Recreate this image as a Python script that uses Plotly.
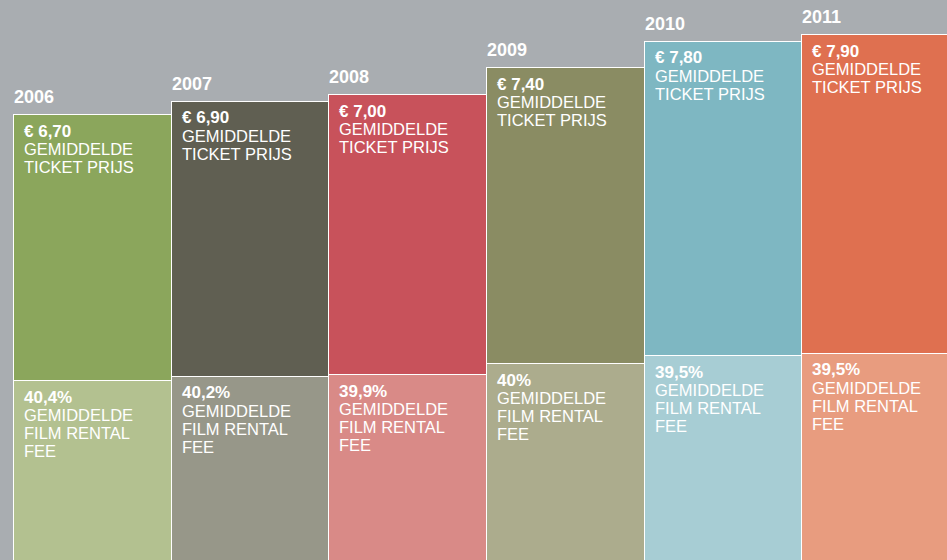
import plotly.graph_objects as go

years = ["2006", "2007", "2008", "2009", "2010", "2011"]
ticket_price = [6.70, 6.90, 7.00, 7.40, 7.80, 7.90]
rental_pct = [40.4, 40.2, 39.9, 40.0, 39.5, 39.5]
price_labels = ["€ 6,70", "€ 6,90", "€ 7,00", "€ 7,40", "€ 7,80", "€ 7,90"]
pct_labels = ["40,4%", "40,2%", "39,9%", "40%", "39,5%", "39,5%"]
upper_colors = ["#8ba65c", "#605f52", "#c8525b", "#8a8c63", "#7eb7c2", "#df7050"]
lower_colors = ["#b3c190", "#979789", "#d98a87", "#acac8d", "#a7cdd4", "#e89c7f"]

BG = "#a9adb1"
FONT = "Liberation Sans"

x = list(range(len(years)))
lower_vals = [p * r / 100 for p, r in zip(ticket_price, rental_pct)]
upper_vals = [p - l for p, l in zip(ticket_price, lower_vals)]

fig = go.Figure()
fig.add_trace(go.Bar(x=x, y=lower_vals, width=1,
                     marker=dict(color=lower_colors, line=dict(color="white", width=1.5)),
                     hoverinfo="skip"))
fig.add_trace(go.Bar(x=x, y=upper_vals, width=1,
                     marker=dict(color=upper_colors, line=dict(color="white", width=1.5)),
                     hoverinfo="skip"))

ann = []
def line(xi, yv, text, shift, bold=False, size=16.5):
    ann.append(dict(x=xi - 0.5, y=yv, xref="x", yref="y", xanchor="left", yanchor="middle",
                    xshift=8, yshift=shift, showarrow=False,
                    text=("<b>%s</b>" % text) if bold else text,
                    font=dict(family=FONT, size=size, color="white")))

for i in x:
    # year label
    ann.append(dict(x=i - 0.5, y=ticket_price[i], xref="x", yref="y", xanchor="left",
                    yanchor="middle", xshift=-2, yshift=18, showarrow=False,
                    text="<b>%s</b>" % years[i],
                    font=dict(family=FONT, size=18, color="white")))
    line(i, ticket_price[i], price_labels[i], -16, bold=True, size=17)
    line(i, ticket_price[i], "GEMIDDELDE", -34)
    line(i, ticket_price[i], "TICKET PRIJS", -52)
    line(i, lower_vals[i], pct_labels[i], -16, bold=True, size=17)
    line(i, lower_vals[i], "GEMIDDELDE", -34)
    line(i, lower_vals[i], "FILM RENTAL", -52)
    line(i, lower_vals[i], "FEE", -70)

fig.update_layout(
    width=947, height=560,
    margin=dict(l=0, r=0, t=0, b=0),
    paper_bgcolor=BG, plot_bgcolor=BG,
    barmode="stack", bargap=0, showlegend=False,
    xaxis=dict(range=[-0.59, 5.419], visible=False, fixedrange=True),
    yaxis=dict(range=[0.025, 8.425], visible=False, fixedrange=True),
    annotations=ann,
)

fig.write_html("out.html",
               config={"displayModeBar": False},
               post_script="document.body.style.margin='0';document.body.style.padding='0';document.body.style.overflow='hidden';")
